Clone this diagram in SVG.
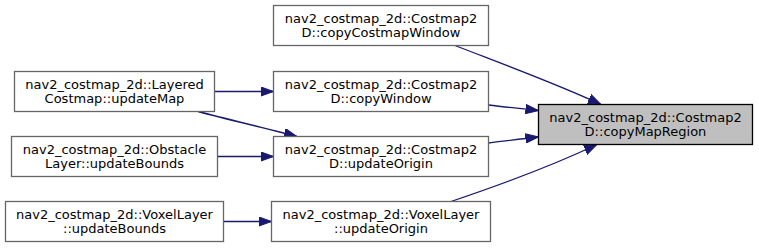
<svg xmlns="http://www.w3.org/2000/svg" width="759" height="248" viewBox="0 0 759 248">
<style>
.node rect{fill:#ffffff;stroke:#666666;stroke-width:1.3}
.node.main rect{fill:#bfbfbf;stroke:#000000}
text{font-family:"DejaVu Sans",sans-serif;font-size:13px;text-anchor:middle;fill:#000000}
.edge{fill:none;stroke:#191970;stroke-width:1.3}
</style>
<defs>
<marker id="ah" markerUnits="userSpaceOnUse" markerWidth="14" markerHeight="10" refX="13" refY="5" orient="auto">
<path d="M0,0.3 L13,5 L0,9.7 z" fill="#191970" stroke="#191970" stroke-width="1"/>
</marker>
</defs>
<g id="edges">
<path class="edge" marker-end="url(#ah)" d="M214.5,91.5 L273.5,91.5"/>
<path class="edge" marker-end="url(#ah)" d="M198,111.5 C230,120 265,128 297,136.5"/>
<path class="edge" marker-end="url(#ah)" d="M217.5,156.5 L273.5,156.5"/>
<path class="edge" marker-end="url(#ah)" d="M223.5,221.5 L271.5,221.5"/>
<path class="edge" marker-end="url(#ah)" d="M455,45.5 C500,63 560,85 601,104.5"/>
<path class="edge" marker-end="url(#ah)" d="M488.5,105 C505,107 520,108.5 538.5,110.5"/>
<path class="edge" marker-end="url(#ah)" d="M488.5,143 C505,141 520,139 538.5,137"/>
<path class="edge" marker-end="url(#ah)" d="M451,201.5 C500,185 560,162 597,144.5"/>
</g>
<g id="copyMapRegion" class="node main">
<rect x="538.5" y="104.5" width="214" height="40"/>
<text x="645.5" y="121.8">nav2_costmap_2d::Costmap2</text>
<text x="645.5" y="135.5">D::copyMapRegion</text>
</g>
<g id="copyCostmapWindow" class="node">
<rect x="273.5" y="5.5" width="215" height="40"/>
<text x="381" y="22.8">nav2_costmap_2d::Costmap2</text>
<text x="381" y="36.5">D::copyCostmapWindow</text>
</g>
<g id="copyWindow" class="node">
<rect x="273.5" y="71.5" width="215" height="40"/>
<text x="381" y="88.8">nav2_costmap_2d::Costmap2</text>
<text x="381" y="102.5">D::copyWindow</text>
</g>
<g id="updateOrigin" class="node">
<rect x="273.5" y="136.5" width="215" height="40"/>
<text x="381" y="153.8">nav2_costmap_2d::Costmap2</text>
<text x="381" y="167.5">D::updateOrigin</text>
</g>
<g id="voxelUpdateOrigin" class="node">
<rect x="271.5" y="201.5" width="219" height="40"/>
<text x="381" y="218.8">nav2_costmap_2d::VoxelLayer</text>
<text x="381" y="232.5">::updateOrigin</text>
</g>
<g id="layeredUpdateMap" class="node">
<rect x="14.5" y="71.5" width="200" height="40"/>
<text x="114.5" y="88.8">nav2_costmap_2d::Layered</text>
<text x="114.5" y="102.5">Costmap::updateMap</text>
</g>
<g id="obstacleUpdateBounds" class="node">
<rect x="11.5" y="136.5" width="206" height="40"/>
<text x="114.5" y="153.8">nav2_costmap_2d::Obstacle</text>
<text x="114.5" y="167.5">Layer::updateBounds</text>
</g>
<g id="voxelUpdateBounds" class="node">
<rect x="5.5" y="201.5" width="218" height="40"/>
<text x="114.5" y="218.8">nav2_costmap_2d::VoxelLayer</text>
<text x="114.5" y="232.5">::updateBounds</text>
</g>
</svg>
